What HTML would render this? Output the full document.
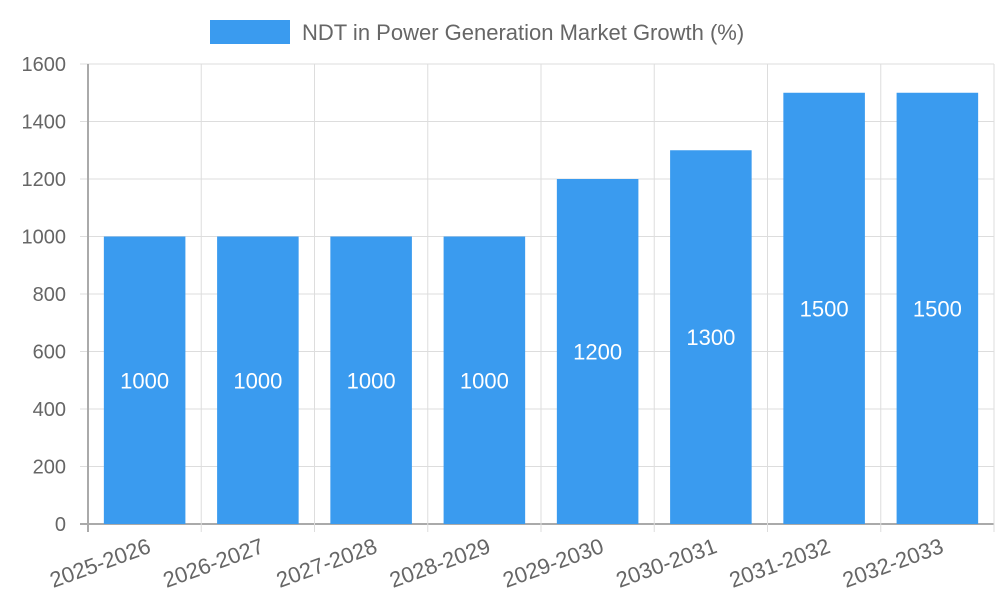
<!DOCTYPE html>
<html><head><meta charset="utf-8"><style>
body{margin:0;background:#fff;}
svg{display:block;font-family:"Liberation Sans",sans-serif;}
</style></head><body>
<svg id="chart" width="1000" height="600">
<g>
<rect x="210" y="20" width="80" height="24" fill="#3a9bef"/>
<text x="302" y="40" font-size="22" fill="#666">NDT in Power Generation Market Growth (%)</text>
</g>
<g id="grid"></g><g id="bars"></g><g id="labels"></g>
</svg>
<script>
const categories=["2025-2026","2026-2027","2027-2028","2028-2029","2029-2030","2030-2031","2031-2032","2032-2033"];
const values=[1000,1000,1000,1000,1200,1300,1500,1500];
const yTicks=[0,200,400,600,800,1000,1200,1400,1600];
const NS="http://www.w3.org/2000/svg";
const L=88,R=994,T=64,B=524,yMax=1600;
const y=v=>B-(v/yMax)*(B-T);
const cw=(R-L)/categories.length;
const x=i=>L+cw*i;
function mk(tag,attrs,parent,txt){const e=document.createElementNS(NS,tag);for(const k in attrs)e.setAttribute(k,attrs[k]);if(txt!==undefined)e.textContent=txt;parent.appendChild(e);return e;}
const grid=document.getElementById('grid'),bars=document.getElementById('bars'),labels=document.getElementById('labels');
yTicks.forEach(t=>{
 const l=mk('line',{x1:80,x2:R,y1:y(t),y2:y(t),stroke:t===0?'#aaa':'#ddd','stroke-width':t===0?2:1},grid);
 
 
 const tx=mk('text',{x:66,y:y(t)+7,'text-anchor':'end','font-size':20,fill:'#666'},grid,String(t));
 
 
});
for(let i=0;i<=categories.length;i++){
 const l=mk('line',{x1:x(i),x2:x(i),y1:T,y2:532,stroke:i===0?'#aaa':'#ddd','stroke-width':i===0?2:1},grid);
 
 
}
categories.forEach((c,i)=>{
 const cx=x(i)+cw/2,bw=cw*0.72;
 const r=mk('rect',{x:cx-bw/2,y:y(values[i]),width:bw,height:B-y(values[i]),fill:'#3a9bef'},bars);
 
 
 const v=mk('text',{x:cx,y:(y(values[i])+B)/2+8,'text-anchor':'middle','font-size':22,fill:'#fff'},labels,String(values[i]));
 
 
 const t=mk('text',{x:0,y:0,'text-anchor':'end','dominant-baseline':'hanging','font-size':22,fill:'#666',transform:`translate(${cx+2},537) rotate(-20)`},labels,c);
 
 
});
</script>
</body></html>
